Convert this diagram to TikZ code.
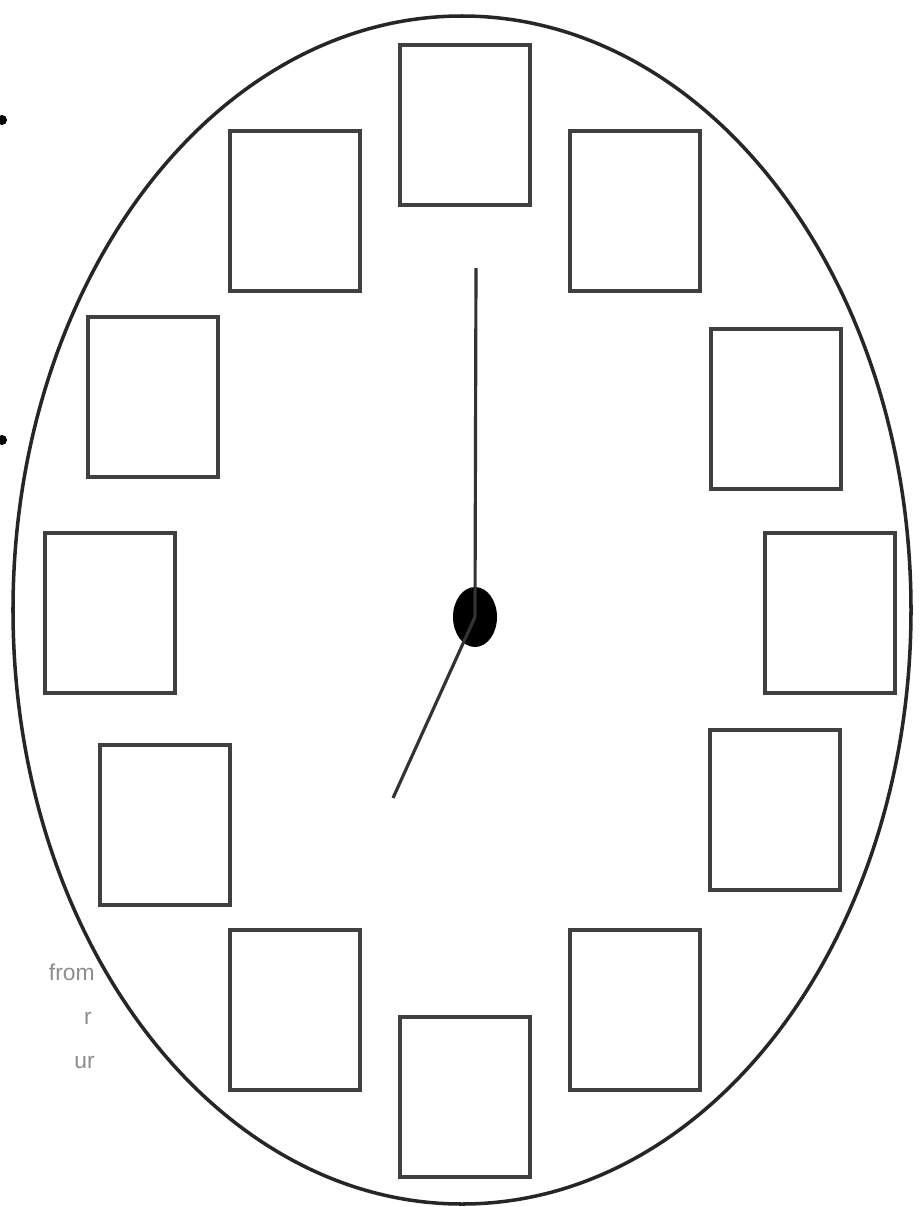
\documentclass[tikz,border=0pt]{standalone}
\usepackage{fontspec}
\setmainfont{Liberation Sans}
\usetikzlibrary{positioning}
\usetikzlibrary{shapes.geometric}
\tikzstyle{numbox} = [rectangle, minimum width=2.6cm, minimum height=3.2cm, draw=black!75, line width=2.6pt]
\tikzstyle{hand} = [line width=1.8pt, draw=black!80]
\tikzstyle{cuttext} = [text=black!45, font=\fontsize{13}{15}\selectfont, anchor=east, inner sep=0pt]

\begin{document}
\begin{tikzpicture}[x=0.02cm, y=-0.02cm]
\useasboundingbox (0,0) rectangle (922,1207);
\draw[line width=2pt, black!85] (462,610) ellipse [x radius=449, y radius=594];
% boxes round the dial
\node (B12) [numbox] at (465,125) {};
\node (B1) [numbox] at (635,211) {};
\node (B2) [numbox] at (776,409) {};
\node (B3) [numbox] at (830,613) {};
\node (B4) [numbox] at (775,810) {};
\node (B5) [numbox] at (635,1010) {};
\node (B6) [numbox] at (465,1097) {};
\node (B7) [numbox] at (295,1010) {};
\node (B8) [numbox] at (165,825) {};
\node (B9) [numbox] at (110,613) {};
\node (B10) [numbox] at (153,397) {};
\node (B11) [numbox] at (295,211) {};
% hands
\node (hub) [ellipse, fill=black, minimum width=0.88cm, minimum height=1.2cm, inner sep=0pt] at (475,617) {};
\coordinate (mintip) at (476,268);
\coordinate (hrtip) at (393,798);
\draw [hand] (hub.center) -- (mintip);
\draw [hand] (hub.center) -- (hrtip);
% cut-off bits at the left edge
\fill[black] (2,120) circle [radius=5];
\fill[black] (2,440) circle [radius=5];
\node (T1) [cuttext] at (95,972) {from};
\node (T2) [cuttext] at (92,1018) {r};
\node (T3) [cuttext] at (95,1062) {ur};
\end{tikzpicture}
\end{document}
